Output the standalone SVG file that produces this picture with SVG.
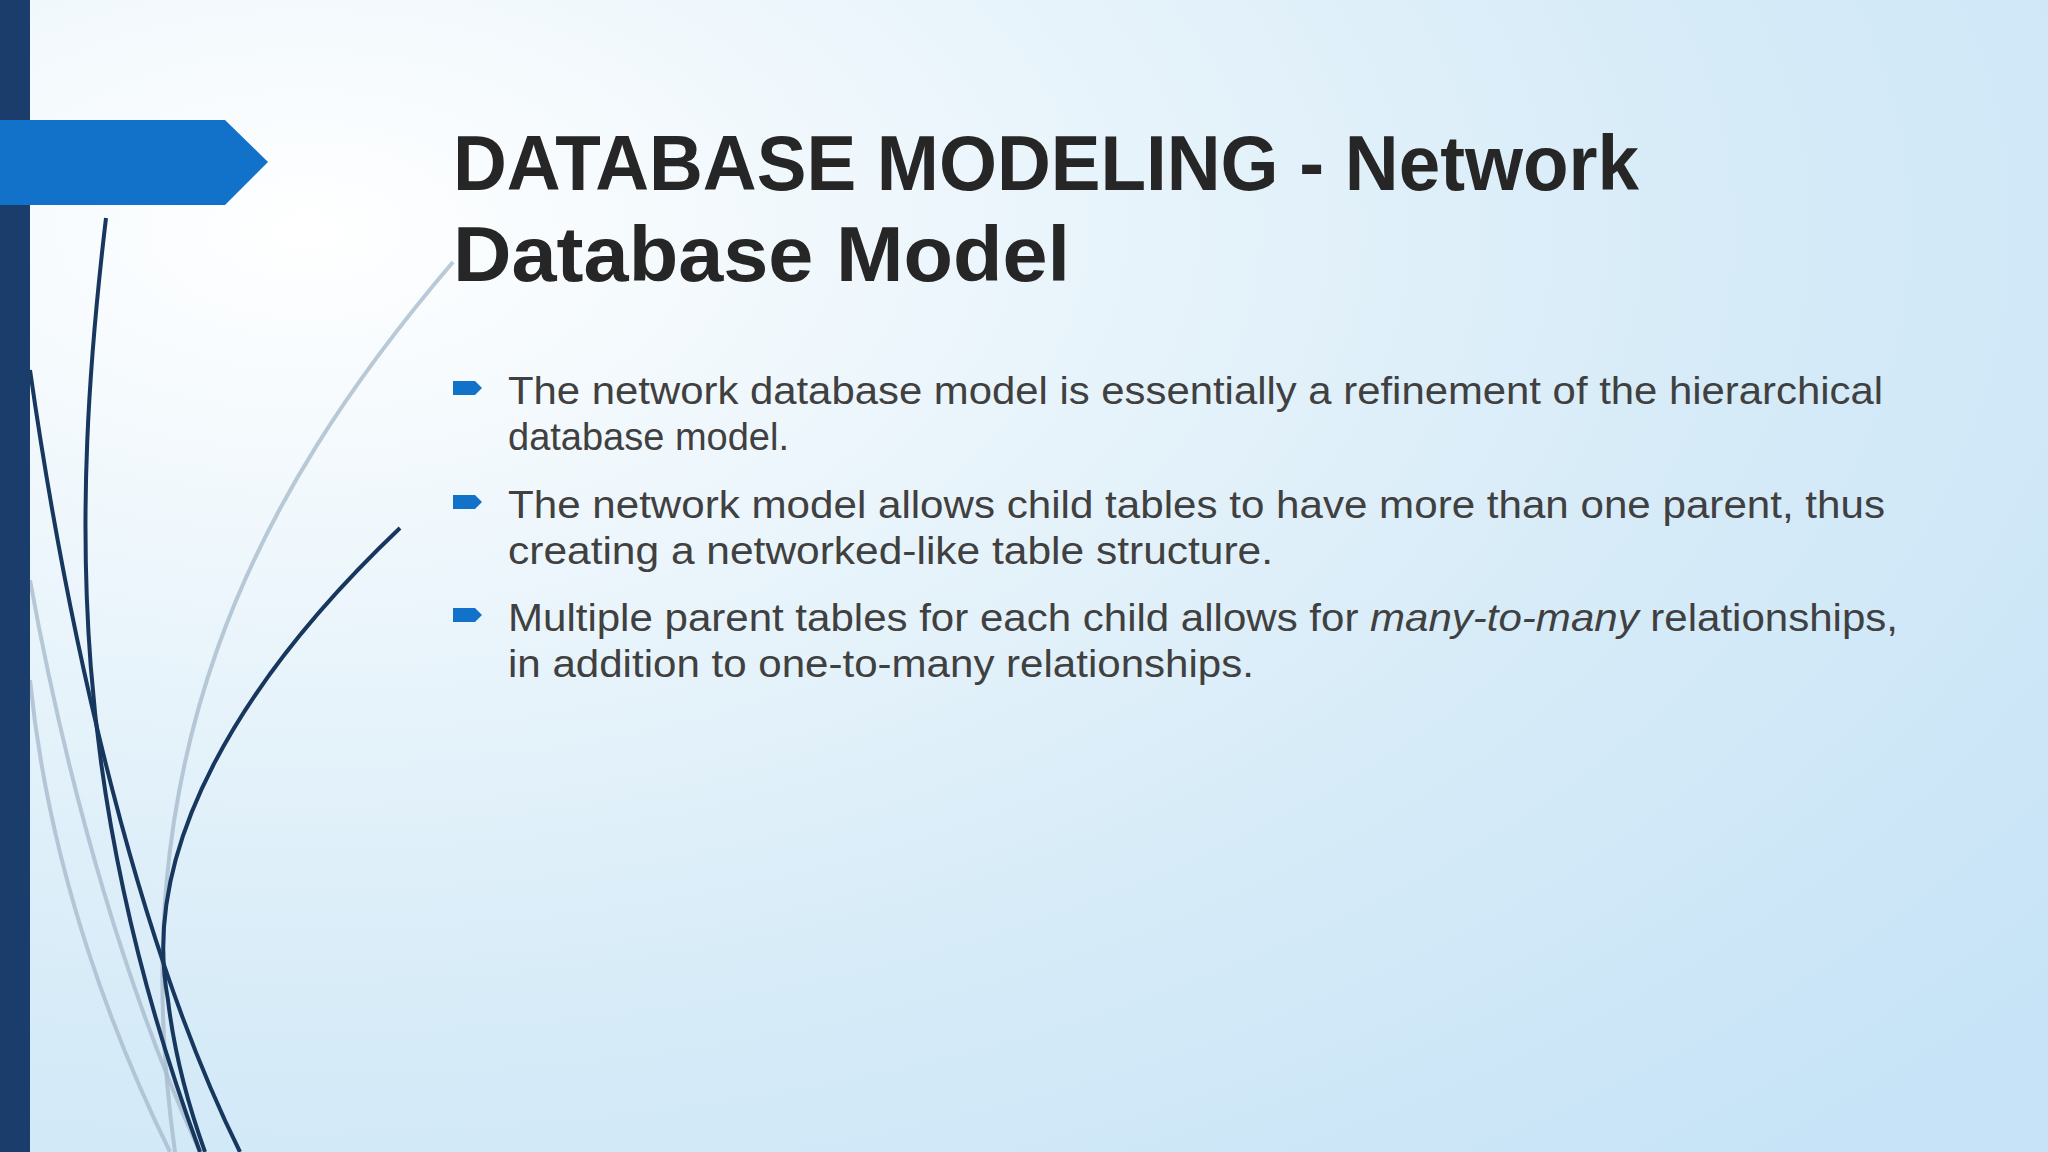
<svg xmlns="http://www.w3.org/2000/svg" width="2048" height="1152" viewBox="0 0 2048 1152">
<defs>
<radialGradient id="bg" cx="0.15" cy="0.2" r="1.1">
<stop offset="0" stop-color="#ffffff"/>
<stop offset="0.6" stop-color="#d8ecf8"/>
<stop offset="1" stop-color="#c6e3f7"/>
</radialGradient>
<style>
.t{font-family:"Liberation Sans",Arial,sans-serif;font-weight:bold;font-size:78px;fill:#262626}
.b{font-family:"Liberation Sans",Arial,sans-serif;font-size:38px;fill:#404040}
.dk{fill:none;stroke:#17375e;stroke-width:4}
.lt{fill:none;stroke:#a9bccd;stroke-width:4;opacity:0.8}
.m{fill:#1272c9}
</style>
</defs>
<rect width="2048" height="1152" fill="url(#bg)"/>
<g id="curves">
<path class="lt" d="M453,262 C250,500 120,760 175,1152"/>
<path class="lt" d="M30,580 C70,800 130,1000 200,1152"/>
<path class="lt" d="M30,680 C50,880 120,1050 170,1152"/>
<path class="dk" d="M106,218 C70,520 70,800 200,1152"/>
<path class="dk" d="M30,370 C70,650 140,950 240,1152"/>
<path class="dk" d="M400,528 C240,680 140,850 168,1000 C175,1060 190,1110 205,1152"/>
</g>
<rect x="0" y="0" width="30" height="1152" fill="#1b3d6b"/>
<path d="M0,120 L225,120 L268,162 L225,205 L0,205 Z" fill="#1272c9"/>
<g id="title">
<text class="t" x="453" y="190" textLength="1186" lengthAdjust="spacingAndGlyphs">DATABASE MODELING - Network</text>
<text class="t" x="453" y="281" textLength="617" lengthAdjust="spacingAndGlyphs">Database Model</text>
</g>
<g id="bullets">
<path class="m" d="M453,381 h22 l7,7 l-7,7 h-22 Z"/>
<path class="m" d="M453,495 h22 l7,7 l-7,7 h-22 Z"/>
<path class="m" d="M453,608 h22 l7,7 l-7,7 h-22 Z"/>
<text class="b" x="508" y="404" textLength="1375" lengthAdjust="spacingAndGlyphs">The network database model is essentially a refinement of the hierarchical</text>
<text class="b" x="508" y="450">database model.</text>
<text class="b" x="508" y="518" textLength="1377" lengthAdjust="spacingAndGlyphs">The network model allows child tables to have more than one parent, thus</text>
<text class="b" x="508" y="564" textLength="765" lengthAdjust="spacingAndGlyphs">creating a networked-like table structure.</text>
<text class="b" x="508" y="631" textLength="1390" lengthAdjust="spacingAndGlyphs">Multiple parent tables for each child allows for <tspan font-style="italic">many-to-many</tspan> relationships,</text>
<text class="b" x="508" y="677" textLength="746" lengthAdjust="spacingAndGlyphs">in addition to one-to-many relationships.</text>
</g>
</svg>
